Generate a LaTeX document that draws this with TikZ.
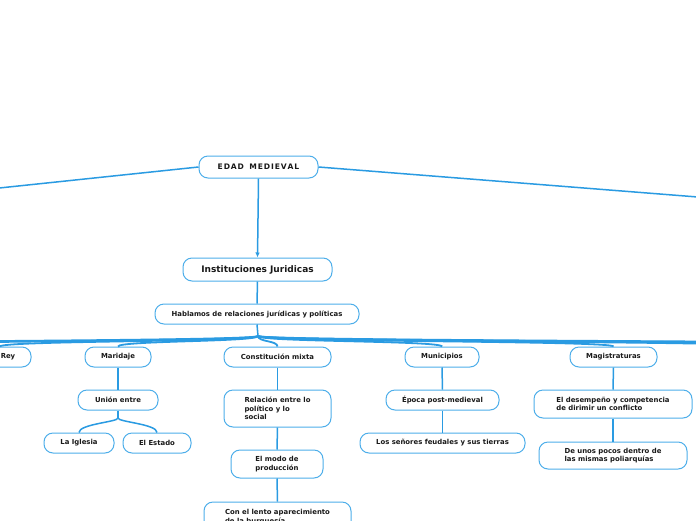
\documentclass[tikz,border=0pt]{standalone}
\usepackage{fontspec}
\setmainfont{DejaVu Sans}
\usetikzlibrary{arrows.meta,calc}
\definecolor{boxline}{HTML}{4DAEEA}
\definecolor{conn}{HTML}{2A9BE2}
\tikzset{
  box/.style={draw=boxline, line width=1pt, fill=white, rounded corners=9pt,
    font=\bfseries\fontsize{6.9}{8.4}\selectfont, text=black!90, inner sep=0pt, align=center},
  leftbox/.style={box, align=left},
  link/.style={draw=conn, line width=1.5pt},
  fan/.style={draw=conn, line width=1.8pt},
}
\begin{document}
\begin{tikzpicture}[x=1pt,y=-1pt]
\useasboundingbox (0,0) rectangle (696,520);
\fill[white] (0,0) rectangle (696,520);

% nodes
\node[box, minimum width=119pt, minimum height=22pt, font=\bfseries\fontsize{7.6}{9}\selectfont] (edad) at (258.5,167) {E\kern0.9pt D\kern0.9pt A\kern0.9pt D\ \ M\kern0.9pt E\kern0.9pt D\kern0.9pt I\kern0.9pt E\kern0.9pt V\kern0.9pt A\kern0.9pt L};
\node[box, minimum width=149pt, minimum height=23pt, font=\bfseries\fontsize{9}{10}\selectfont] (inst) at (257.5,269.5) {Instituciones Juridicas};
\node[box, minimum width=204pt, minimum height=20pt] (habl) at (257,314) {Hablamos de relaciones jurídicas y políticas};

\node[box, minimum width=62pt, minimum height=20pt] (rey) at (0,357) {\hspace*{16pt}Rey};
\node[box, minimum width=66pt, minimum height=20pt] (mari) at (118,357) {Maridaje};
\node[box, minimum width=107pt, minimum height=20pt] (cons) at (277.5,357) {Constitución mixta};
\node[box, minimum width=74pt, minimum height=20pt] (muni) at (442,357) {Municipios};
\node[box, minimum width=87pt, minimum height=20pt] (magi) at (613.5,357) {Magistraturas};

\node[box, minimum width=80pt, minimum height=20pt] (union) at (118,400) {Unión entre};
\node[box, minimum width=70pt, minimum height=20pt] (igle) at (79,443) {La Iglesia};
\node[box, minimum width=68pt, minimum height=20pt] (esta) at (157,443) {El Estado};

\node[leftbox, minimum width=107pt, minimum height=37pt] (rela) at (277.5,408.5) {Relación entre lo\\político y lo\\social};
\node[box, minimum width=92pt, minimum height=28pt] (modo) at (277,464) {El modo de\\producción};
\node[leftbox, minimum width=147pt, minimum height=30pt] (lento) at (277.5,517) {Con el lento aparecimiento\\de la burguesía};

\node[box, minimum width=113pt, minimum height=20pt] (epoca) at (442.5,400) {Época post-medieval};
\node[box, minimum width=165pt, minimum height=20pt] (seno) at (442.5,443) {Los señores feudales y sus tierras};

\node[leftbox, minimum width=158pt, minimum height=28pt] (dese) at (613,404) {El desempeño y competencia\\de dirimir un conflicto};
\node[leftbox, minimum width=148pt, minimum height=27pt] (unos) at (613,455.5) {De unos pocos dentro de\\las mismas poliarquías};

% off-canvas coordinates
\coordinate (offL) at (-200,209);
\coordinate (offR) at (900,213);
\coordinate (fanL1) at (-180,347);
\coordinate (fanL2) at (-380,347);
\coordinate (fanR1) at (780,347);
\coordinate (fanR2) at (960,347);
\coordinate (fanR3) at (1150,347);
\coordinate (hub) at (258,336);
\coordinate (hub2) at (118,418);

% connectors
\draw[link] (edad.west) -- (offL);
\draw[link] (edad.east) -- (offR);
\draw[link, -{Latex[length=5pt,width=4.5pt]}] (edad.south) -- (inst.north);
\draw[link] (inst.south) -- (habl.north);
\draw[link] (habl.south) -- (hub);

\foreach \c in {rey.north, mari.north, cons.north, muni.north, magi.north, fanL1, fanL2, fanR1, fanR2, fanR3}{
  \draw[fan] (hub) .. controls (258,342) and ($(\c)+(0,-6)$) .. (\c);
}

\draw[link] (mari.south) -- (union.north);
\draw[link] (union.south) -- (hub2);
\draw[link] (hub2) .. controls (118,422) and (79,424) .. (igle.north);
\draw[link] (hub2) .. controls (118,422) and (157,424) .. (esta.north);

\draw[link] (cons.south) -- (rela.north);
\draw[link] (rela.south) -- (modo.north);
\draw[link] (modo.south) -- (lento.north);

\draw[link] (muni.south) -- (epoca.north);
\draw[link] (epoca.south) -- (seno.north);

\draw[link] (magi.south) -- (dese.north);
\draw[link] (dese.south) -- (unos.north);
\end{tikzpicture}
\end{document}
